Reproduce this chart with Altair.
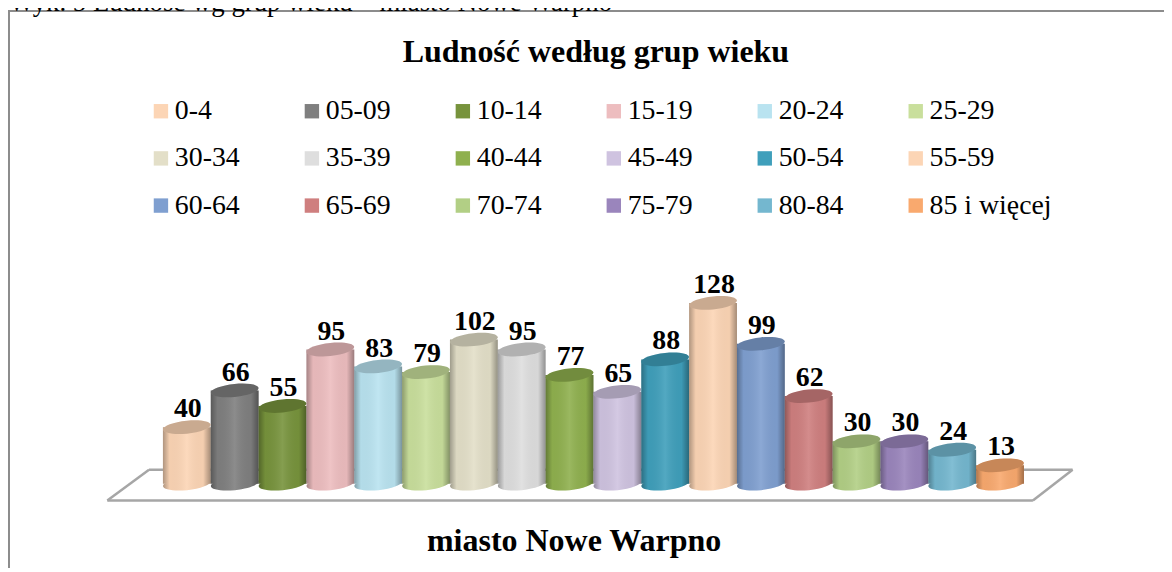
import altair as alt
import pandas as pd

categories = ["0-4", "05-09", "10-14", "15-19", "20-24", "25-29", "30-34", "35-39", "40-44",
              "45-49", "50-54", "55-59", "60-64", "65-69", "70-74", "75-79", "80-84", "85 i więcej"]
values = [40, 66, 55, 95, 83, 79, 102, 95, 77, 65, 88, 128, 99, 62, 30, 30, 24, 13]
colors = ["#FCD5B5", "#7F7F7F", "#77933C", "#EDBDBF", "#B9E3F0", "#C9DF9C", "#E3DFC8", "#DEDEDE", "#8FB04E",
          "#CFC3E0", "#3F9FBB", "#FCD5B5", "#7F9FD0", "#CF7F7F", "#B2CF85", "#9A85BC", "#74B7CF", "#F9A96E"]
chart_title = "Ludność według grup wieku"
axis_title = "miasto Nowe Warpno"
caption = "Wyk. 5 Ludność wg grup wieku – miasto Nowe Warpno"

df = pd.DataFrame({"grupa": categories, "n": values})
one = pd.DataFrame({"a": [0]})
SERIF = "Liberation Serif"
W, H = 1164, 562
ELL = "M-1,0.1A1,0.27,-6,1,1,1,-0.1A1,0.27,-6,1,1,-1,0.1Z"

xs = alt.Scale(type="band", domain=categories, range=[156, 1023], paddingInner=0, paddingOuter=0, round=False)
ys = alt.Scale(domain=[0, 128], range=[477, 295], nice=False, zero=True)
x = alt.X("grupa:N", scale=xs, sort=categories, axis=None)
y = alt.Y("n:Q", scale=ys, axis=None)
col = alt.Color(
    "grupa:N",
    scale=alt.Scale(domain=categories, range=colors),
    sort=categories,
    legend=alt.Legend(
        orient="none", legendX=140, legendY=88, columns=6, title=None, direction="horizontal",
        symbolType="square", symbolSize=210, symbolStrokeWidth=0, symbolOpacity=1,
        labelFont=SERIF, labelFontSize=28, labelColor="#000000", labelLimit=300, labelOffset=0,
        gridAlign="all", columnPadding=1, rowPadding=19.5, padding=0,
    ),
)

shade = alt.LinearGradient(
    gradient="linear", x1=0, x2=1, y1=0, y2=0,
    stops=[
        alt.GradientStop(color="rgba(0,0,0,0.30)", offset=0),
        alt.GradientStop(color="rgba(0,0,0,0.03)", offset=0.14),
        alt.GradientStop(color="rgba(255,255,255,0.10)", offset=0.5),
        alt.GradientStop(color="rgba(0,0,0,0.03)", offset=0.84),
        alt.GradientStop(color="rgba(0,0,0,0.35)", offset=1),
    ],
)


def rule(x1, y1, x2, y2, color, width):
    return alt.Chart(one).mark_rule(color=color, strokeWidth=width).encode(
        x=alt.value(x1), y=alt.value(y1), x2=alt.value(x2), y2=alt.value(y2)
    )


def caption_text(txt, px, py, size, bold, align="center"):
    return alt.Chart(one).mark_text(
        text=txt, x=px, y=py, font=SERIF, fontSize=size, fontWeight="bold" if bold else "normal",
        color="#000000", align=align, baseline="alphabetic",
    ).encode()


frame = [rule(0, 1, W, 1, "#8C8C8C", 2), rule(1, 0, 1, H, "#8C8C8C", 2)]
floor = [
    rule(100, 494, 1032, 494, "#A6A6A6", 2.5),
    rule(142, 463, 1072, 463, "#A6A6A6", 2.5),
    rule(100, 494, 142, 463, "#A6A6A6", 2.5),
    rule(1032, 494, 1072, 463, "#A6A6A6", 2.5),
]

base = alt.Chart(df)
zero = alt.Y("zero:Q", scale=ys, axis=None)
bottom = base.transform_calculate(zero="0").mark_point(shape=ELL, size=2304, filled=True, opacity=1).encode(
    x=x, y=zero, color=col
)
bottom_shade = base.transform_calculate(zero="0").mark_point(
    shape=ELL, size=2304, filled=True, opacity=1, fill=shade
).encode(x=x, y=zero)
bars = base.mark_bar(opacity=1).encode(x=x, y=y, color=col)
bars_shade = base.mark_bar(color=shade, opacity=1).encode(x=x, y=y)
top = base.mark_point(shape=ELL, size=2304, filled=True, opacity=1).encode(x=x, y=y, color=col)
top_dark = base.mark_point(shape=ELL, size=2304, filled=True, opacity=0.2, fill="#000000").encode(x=x, y=y)
labels = base.mark_text(
    font=SERIF, fontSize=28, fontWeight="bold", color="#000000", dx=1, dy=-10, baseline="alphabetic"
).encode(x=x, y=y, text=alt.Text("n:Q"))

chart = alt.layer(
    *frame,
    caption_text(caption, 1, 1, 27, False, "left"),
    *floor,
    bottom, bottom_shade, bars, bars_shade, top, top_dark, labels,
    caption_text(chart_title, 592, 52, 32.2, True),
    caption_text(axis_title, 570, 545, 32.2, True),
).resolve_scale(x="shared", y="shared", color="shared").properties(
    width=W, height=H, padding=0, autosize=alt.AutoSizeParams(type="none")
).configure_view(stroke=None)

chart.save("out.html", embed_options={"renderer": "svg", "actions": False})
